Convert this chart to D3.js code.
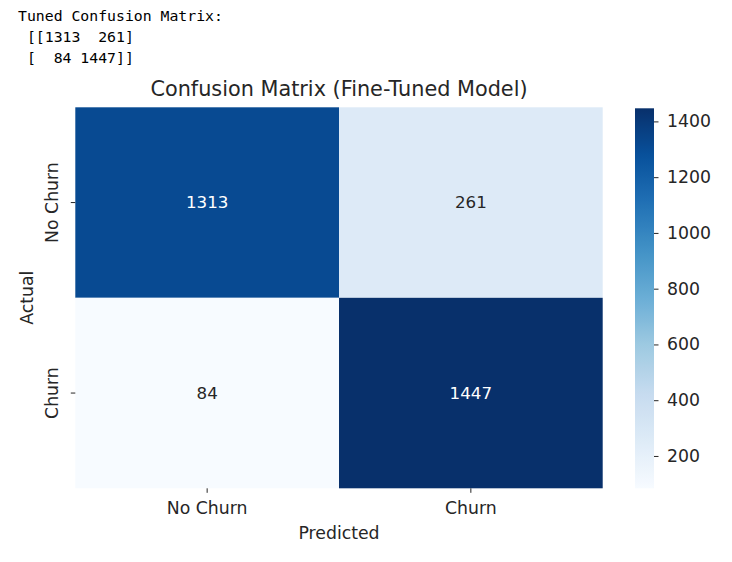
<!DOCTYPE html>
<html>
<head>
<meta charset="utf-8">
<script src="https://cdn.jsdelivr.net/npm/d3@7"></script>
<style>
  html, body { margin: 0; padding: 0; background: #fff; }
  #out { position: absolute; left: 18px; top: 6px; font-family: "DejaVu Sans Mono", monospace; font-size: 14.8px; line-height: 20.8px; color: #000; white-space: pre; }
  svg { position: absolute; left: 0; top: 0; }
</style>
</head>
<body>
<div id="out"></div>
<svg id="chart" width="732" height="562"></svg>
<script>
const printedLines = ["Tuned Confusion Matrix:", " [[1313  261]", " [  84 1447]]"];
const actualLabels = ["No Churn", "Churn"];
const predictedLabels = ["No Churn", "Churn"];
const matrixValues = [[1313, 261], [84, 1447]];
const colorbarTicks = [200, 400, 600, 800, 1000, 1200, 1400];
const bluesStops = ["#f7fbff", "#deebf7", "#c6dbef", "#9ecae1", "#6baed6", "#4292c6", "#2171b5", "#08519c", "#08306b"];
const titleText = "Confusion Matrix (Fine-Tuned Model)";
const xTitle = "Predicted";
const yTitle = "Actual";

d3.select("#out").text(printedLines.join("\n"));

const svg = d3.select("#chart");
const font = "DejaVu Sans, sans-serif";
const textCol = "#262626";
const fs = 17.3;

const L = 75.3, R = 602.7, T = 107.3, B = 488.3;
const x = d3.scaleBand().domain(predictedLabels).range([L, R]);
const y = d3.scaleBand().domain(actualLabels).range([T, B]);

const flat = matrixValues.flat();
const vmin = d3.min(flat), vmax = d3.max(flat);
const color = d3.scaleLinear()
  .domain(bluesStops.map((_, i) => vmin + (vmax - vmin) * i / (bluesStops.length - 1)))
  .range(bluesStops)
  .interpolate(d3.interpolateRgb);

const cells = [];
actualLabels.forEach((a, i) => predictedLabels.forEach((p, j) => cells.push({a, p, v: matrixValues[i][j]})));

svg.append("g").selectAll("rect").data(cells).join("rect")
  .attr("x", d => x(d.p)).attr("y", d => y(d.a))
  .attr("width", x.bandwidth()).attr("height", y.bandwidth())
  .attr("fill", d => color(d.v));

function lum(c) {
  const rgb = d3.rgb(c);
  const f = v => { v /= 255; return v <= 0.03928 ? v / 12.92 : Math.pow((v + 0.055) / 1.055, 2.4); };
  return 0.2126 * f(rgb.r) + 0.7152 * f(rgb.g) + 0.0722 * f(rgb.b);
}

svg.append("g").selectAll("text").data(cells).join("text")
  .attr("x", d => x(d.p) + x.bandwidth() / 2)
  .attr("y", d => y(d.a) + y.bandwidth() / 2 + 5.5)
  .attr("text-anchor", "middle")
  .attr("font-family", font).attr("font-size", 16.7)
  .attr("fill", d => lum(color(d.v)) > 0.408 ? textCol : "#ffffff")
  .text(d => d.v);

// x axis
const xAxis = svg.append("g").attr("transform", `translate(0,${B})`)
  .call(d3.axisBottom(x).tickSize(4.5).tickPadding(8.5));
xAxis.select(".domain").remove();
xAxis.selectAll("line").attr("stroke", textCol).attr("stroke-width", 1);
xAxis.selectAll("text").attr("font-family", font).attr("font-size", fs).attr("fill", textCol);

// y axis
const yAxis = svg.append("g").attr("transform", `translate(${L},0)`)
  .call(d3.axisLeft(y).tickSize(4.5).tickPadding(0));
yAxis.select(".domain").remove();
yAxis.selectAll("line").attr("stroke", textCol).attr("stroke-width", 1);
yAxis.selectAll("text")
  .attr("font-family", font).attr("font-size", fs).attr("fill", textCol)
  .attr("text-anchor", "middle").attr("dy", null).attr("x", null)
  .attr("dominant-baseline", "central")
  .attr("transform", "translate(-23,0) rotate(-90)");

// titles
svg.append("text").attr("x", (L + R) / 2).attr("y", 96)
  .attr("text-anchor", "middle").attr("font-family", font).attr("font-size", 20.8).attr("fill", textCol)
  .text(titleText);
svg.append("text").attr("x", (L + R) / 2).attr("y", 538.5)
  .attr("text-anchor", "middle").attr("font-family", font).attr("font-size", fs).attr("fill", textCol)
  .text(xTitle);
svg.append("text").attr("transform", `translate(33,${(T + B) / 2}) rotate(-90)`)
  .attr("text-anchor", "middle").attr("font-family", font).attr("font-size", fs).attr("fill", textCol)
  .text(yTitle);

// colorbar
const cbL = 635, cbR = 654, cbT = 108.3, cbB = 488.3;
const cy = d3.scaleLinear().domain([vmin, vmax]).range([cbB, cbT]);
const defs = svg.append("defs");
const grad = defs.append("linearGradient").attr("id", "cbgrad")
  .attr("x1", 0).attr("y1", 1).attr("x2", 0).attr("y2", 0);
grad.selectAll("stop").data(d3.range(0, 1.0001, 0.02)).join("stop")
  .attr("offset", d => d)
  .attr("stop-color", d => color(vmin + d * (vmax - vmin)));
svg.append("rect").attr("x", cbL).attr("y", cbT).attr("width", cbR - cbL).attr("height", cbB - cbT)
  .attr("fill", "url(#cbgrad)");
const cAxis = svg.append("g").attr("transform", `translate(${cbR},0)`)
  .call(d3.axisRight(cy).tickValues(colorbarTicks).tickSize(4.5).tickPadding(8.5).tickFormat(d3.format("d")));
cAxis.select(".domain").remove();
cAxis.selectAll("line").attr("stroke", textCol).attr("stroke-width", 1);
cAxis.selectAll("text").attr("font-family", font).attr("font-size", fs).attr("fill", textCol);
</script>
</body>
</html>
